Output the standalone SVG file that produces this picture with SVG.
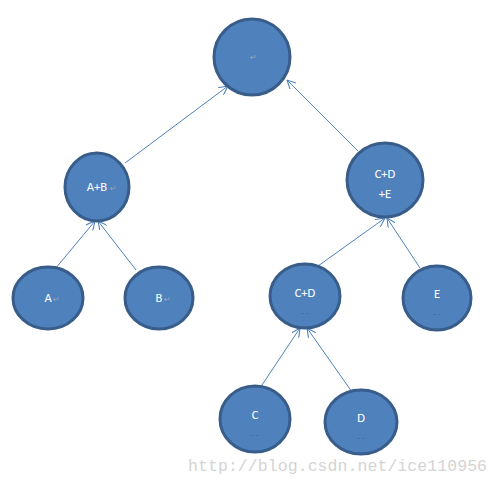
<svg xmlns="http://www.w3.org/2000/svg" width="500" height="484" viewBox="0 0 500 484">
<style>
.n{fill:#4f81bd;stroke:#385d8a;stroke-width:3}
.t{font-family:Calibri,Carlito,"Liberation Sans",sans-serif;font-size:12.5px;fill:#ffffff;text-anchor:middle}
.p{font-family:"DejaVu Sans",sans-serif;font-size:8px;fill:#9aa7b8}
.d{font-family:"Liberation Sans",sans-serif;font-size:8px;fill:#3f5f8a;text-anchor:middle}
.e{stroke:#4f81bd;stroke-width:1;fill:none;marker-end:url(#ah)}
.w{font-family:"Liberation Mono",monospace;font-size:16.5px;fill:#d4d4d4}
</style>
<defs>
<marker id="ah" viewBox="0 0 10 10" refX="10" refY="5" markerWidth="9" markerHeight="9" orient="auto" markerUnits="userSpaceOnUse">
<path d="M0,0 L10,5 L0,10" fill="none" stroke="#4f81bd" stroke-width="1.2"/>
</marker>
</defs>
<rect width="500" height="484" fill="#ffffff"/>
<g id="edges">
<line class="e" x1="125" y1="163" x2="228" y2="86"/>
<line class="e" x1="358" y1="151" x2="287" y2="80"/>
<line class="e" x1="55" y1="269" x2="95" y2="221"/>
<line class="e" x1="136" y1="270" x2="98" y2="221"/>
<line class="e" x1="318" y1="266" x2="385" y2="218"/>
<line class="e" x1="420" y1="268" x2="387" y2="218"/>
<line class="e" x1="260" y1="388" x2="300" y2="328"/>
<line class="e" x1="352" y1="392" x2="307" y2="328"/>
</g>
<g id="root">
<ellipse class="n" cx="252" cy="57" rx="38" ry="38"/>
<text class="p" x="250" y="60">↵</text>
</g>
<g id="AB">
<ellipse class="n" cx="97" cy="187" rx="32" ry="34"/>
<text class="t" x="97" y="191">A+B</text>
<text class="p" x="110" y="191">↵</text>
</g>
<g id="CDE">
<ellipse class="n" cx="385" cy="180" rx="38" ry="37"/>
<text class="t" x="385" y="178">C+D</text>
<text class="t" x="385" y="198">+E</text>
</g>
<g id="A">
<ellipse class="n" cx="48" cy="298" rx="35" ry="31"/>
<text class="t" x="48" y="302">A</text>
<text class="p" x="53" y="302">↵</text>
</g>
<g id="B">
<ellipse class="n" cx="159" cy="298" rx="34" ry="31"/>
<text class="t" x="159" y="302">B</text>
<text class="p" x="164" y="302">↵</text>
</g>
<g id="CD">
<ellipse class="n" cx="305" cy="296" rx="35" ry="32"/>
<text class="t" x="305" y="297">C+D</text>
<text class="d" x="305" y="315">- -</text>
</g>
<g id="E">
<ellipse class="n" cx="437" cy="298" rx="34" ry="32"/>
<text class="t" x="437" y="298">E</text>
<text class="d" x="437" y="316">- -</text>
</g>
<g id="C">
<ellipse class="n" cx="255" cy="419" rx="35" ry="33"/>
<text class="t" x="255" y="419">C</text>
<text class="d" x="255" y="437">- -</text>
</g>
<g id="D">
<ellipse class="n" cx="361" cy="422" rx="36" ry="32"/>
<text class="t" x="361" y="422">D</text>
<text class="d" x="361" y="440">- -</text>
</g>
<text class="w" x="188" y="471" textLength="299">http://blog.csdn.net/ice110956</text>
</svg>
